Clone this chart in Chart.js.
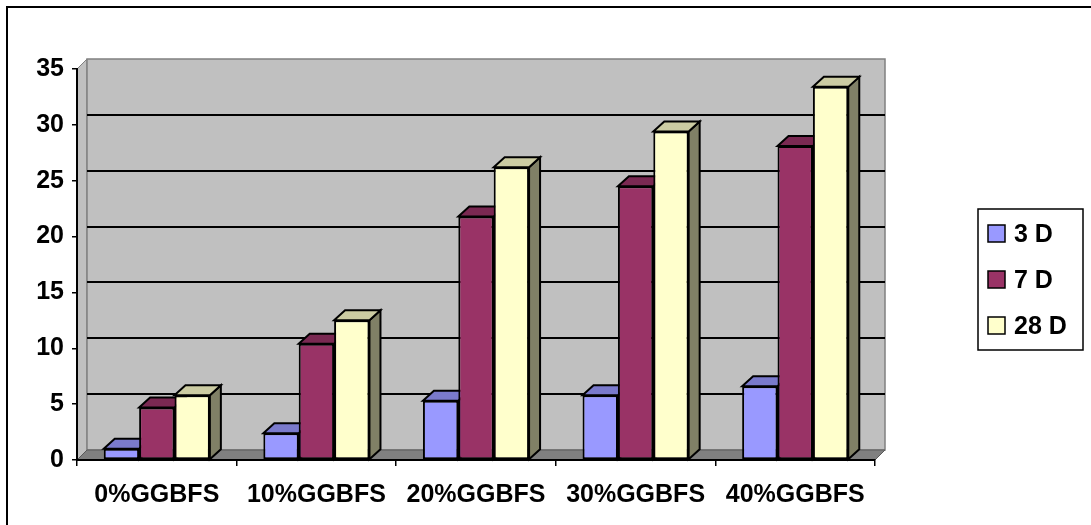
<!DOCTYPE html>
<html>
<head>
<meta charset="utf-8">
<script src="https://cdn.jsdelivr.net/npm/chart.js@4"></script>
<style>
  html, body { margin: 0; padding: 0; background: #fff; }
  #wrap { width: 1091px; height: 525px; }
</style>
</head>
<body>
<div id="wrap"><canvas id="c" width="1091" height="525"></canvas></div>
<script>
// Compressive strength by GGBFS replacement and curing age
const categories = ['0%GGBFS', '10%GGBFS', '20%GGBFS', '30%GGBFS', '40%GGBFS'];
const seriesLabels = ['3 D', '7 D', '28 D'];
const values3D = [1.0, 2.4, 5.3, 5.8, 6.6];
const values7D = [4.7, 10.4, 21.8, 24.5, 28.1];
const values28D = [5.8, 12.5, 26.2, 29.4, 33.4];
const yTicks = { min: 0, max: 35, step: 5 };

const FONT = '"Liberation Sans", Arial, sans-serif';
const fronts = ['#9999FF', '#993366', '#FFFFCC'];
const tops = ['#7A7ACC', '#7A2952', '#CCCCA3'];
const sides = ['#4C4C80', '#4C1933', '#808066'];
const WALL_D = 10;   // depth of walls/floor in px
const BAR_DX = 11, BAR_DY = 10;

const poly = (ctx, pts, fill, stroke, lw) => {
  ctx.beginPath();
  ctx.moveTo(pts[0][0], pts[0][1]);
  for (let i = 1; i < pts.length; i++) ctx.lineTo(pts[i][0], pts[i][1]);
  ctx.closePath();
  if (fill) { ctx.fillStyle = fill; ctx.fill(); }
  if (stroke) { ctx.strokeStyle = stroke; ctx.lineWidth = lw || 1; ctx.stroke(); }
};

const scene3d = {
  id: 'scene3d',
  beforeDraw(chart) {
    const { ctx, chartArea: a, scales } = chart;
    const ys = scales.y;
    ctx.save();
    // outer frame
    ctx.strokeStyle = '#000';
    ctx.lineWidth = 2;
    ctx.beginPath();
    ctx.moveTo(7, 530); ctx.lineTo(7, 7); ctx.lineTo(1100, 7);
    ctx.stroke();

    const d = WALL_D;
    // left side wall
    poly(ctx, [[a.left, a.top], [a.left + d, a.top - d], [a.left + d, a.bottom - d], [a.left, a.bottom]], '#C0C0C0', '#808080', 1);
    // back wall
    poly(ctx, [[a.left + d, a.top - d], [a.right + d, a.top - d], [a.right + d, a.bottom - d], [a.left + d, a.bottom - d]], '#C0C0C0', '#808080', 1.5);
    // gridlines on back wall
    ctx.strokeStyle = '#000';
    ctx.lineWidth = 2;
    for (let v = yTicks.min + yTicks.step; v < yTicks.max; v += yTicks.step) {
      const y = Math.round(ys.getPixelForValue(v) - d);
      ctx.beginPath();
      ctx.moveTo(a.left + d, y);
      ctx.lineTo(a.right + d, y);
      ctx.stroke();
    }
    // floor
    poly(ctx, [[a.left, a.bottom], [a.right, a.bottom], [a.right + d, a.bottom - d], [a.left + d, a.bottom - d]], '#808080', '#5a5a5a', 1);
    ctx.restore();
  },
  beforeDatasetsDraw(chart) {
    const { ctx } = chart;
    ctx.save();
    chart.data.datasets.forEach((ds, di) => {
      const meta = chart.getDatasetMeta(di);
      meta.data.forEach(bar => {
        const p = bar.getProps(['x', 'y', 'base', 'width'], true);
        const x0 = p.x - p.width / 2, x1 = p.x + p.width / 2;
        const yt = p.y, yb = p.base;
        // right side face
        poly(ctx, [[x1, yt], [x1 + BAR_DX, yt - BAR_DY], [x1 + BAR_DX, yb - BAR_DY], [x1, yb]], sides[di], '#000', 2);
        // top face
        poly(ctx, [[x0, yt], [x1, yt], [x1 + BAR_DX, yt - BAR_DY], [x0 + BAR_DX, yt - BAR_DY]], tops[di], '#000', 2);
      });
    });
    ctx.restore();
  },
  afterDraw(chart) {
    const { ctx } = chart;
    ctx.save();
    // legend box
    ctx.strokeStyle = '#000';
    ctx.lineWidth = 1.5;
    ctx.strokeRect(978, 209, 105, 141);
    ctx.font = 'bold 25px ' + FONT;
    ctx.textBaseline = 'middle';
    ctx.textAlign = 'left';
    chart.data.datasets.forEach((ds, i) => {
      const cy = 234 + i * 46;
      ctx.fillStyle = ds.backgroundColor;
      ctx.fillRect(988, cy - 9, 17, 17);
      ctx.lineWidth = 1.5;
      ctx.strokeRect(988, cy - 9, 17, 17);
      ctx.fillStyle = '#000';
      ctx.fillText(ds.label, 1014, cy + 1);
    });
    ctx.restore();
  }
};

const seriesValues = [values3D, values7D, values28D];
new Chart(document.getElementById('c'), {
  type: 'bar',
  data: {
    labels: categories,
    datasets: seriesLabels.map((lab, i) => ({
      label: lab,
      data: seriesValues[i],
      backgroundColor: fronts[i],
      borderColor: '#000',
      borderWidth: 2,
      borderSkipped: false,
      categoryPercentage: 0.665,
      barPercentage: 1.0
    }))
  },
  options: {
    responsive: false,
    animation: false,
    events: [],
    layout: { padding: { top: 69, right: 216, left: 0, bottom: 0 } },
    plugins: { legend: { display: false }, tooltip: { enabled: false } },
    scales: {
      x: {
        afterFit(s) { s.height = 65; },
        grid: { offset: true, drawOnChartArea: false, drawTicks: true, tickLength: 6, color: '#000', lineWidth: 1.5 },
        border: { display: true, color: '#000', width: 2 },
        ticks: { color: '#000', font: { family: FONT, size: 25, weight: 'bold' }, padding: 14, maxRotation: 0 }
      },
      y: {
        min: yTicks.min, max: yTicks.max,
        afterFit(s) { s.width = 77; },
        grid: { drawOnChartArea: false, drawTicks: true, tickLength: 5, color: '#000', lineWidth: 1.5 },
        border: { display: true, color: '#000', width: 2 },
        ticks: { stepSize: yTicks.step, color: '#000', font: { family: FONT, size: 25, weight: 'bold' }, padding: 8 }
      }
    }
  },
  plugins: [scene3d]
});
</script>
</body>
</html>
